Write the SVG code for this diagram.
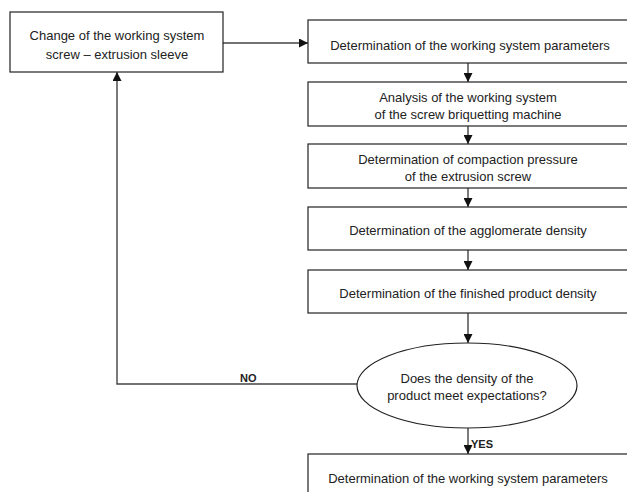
<svg xmlns="http://www.w3.org/2000/svg" width="627" height="492" viewBox="0 0 627 492">
<style>
.box{fill:#fff;stroke:#222;stroke-width:1.2}
.t{font-family:"Liberation Sans",Arial,sans-serif;font-size:13px;fill:#222;text-anchor:middle}
.b{font-family:"Liberation Sans",Arial,sans-serif;font-size:11px;font-weight:bold;fill:#222}
.c{fill:none;stroke:#444;stroke-width:1.4}
</style>
<defs>
<marker id="ah" viewBox="0 0 10 10" refX="10" refY="5" markerWidth="9" markerHeight="9" markerUnits="userSpaceOnUse" orient="auto">
<path d="M0,0 L10,5 L0,10 z" fill="#111"/>
</marker>
</defs>
<rect width="627" height="492" fill="#fff"/>
<g id="connectors">
<line class="c" x1="223" y1="43" x2="308" y2="43" marker-end="url(#ah)"/>
<line class="c" x1="468" y1="63" x2="468" y2="82" marker-end="url(#ah)"/>
<line class="c" x1="468" y1="126" x2="468" y2="144" marker-end="url(#ah)"/>
<line class="c" x1="468" y1="188" x2="468" y2="207" marker-end="url(#ah)"/>
<line class="c" x1="468" y1="250" x2="468" y2="270" marker-end="url(#ah)"/>
<line class="c" x1="468" y1="313" x2="468" y2="343" marker-end="url(#ah)"/>
<line class="c" x1="468" y1="428" x2="468" y2="454" marker-end="url(#ah)"/>
<polyline class="c" points="357,384 117,384 117,72" marker-end="url(#ah)"/>
<text class="b" x="240" y="382">NO</text>
<text class="b" x="471" y="448">YES</text>
</g>
<g id="n1">
<rect class="box" x="10" y="12" width="213" height="60"/>
<text class="t" x="117" y="40">Change of the working system</text>
<text class="t" x="117" y="59">screw – extrusion sleeve</text>
</g>
<g id="n2">
<rect class="box" x="308" y="20" width="322" height="43"/>
<text class="t" x="470" y="50">Determination of the working system parameters</text>
</g>
<g id="n3">
<rect class="box" x="308" y="82" width="322" height="44"/>
<text class="t" x="468" y="102">Analysis of the working system</text>
<text class="t" x="468" y="119">of the screw briquetting machine</text>
</g>
<g id="n4">
<rect class="box" x="308" y="144" width="322" height="44"/>
<text class="t" x="468" y="164">Determination of compaction pressure</text>
<text class="t" x="468" y="181">of the extrusion screw</text>
</g>
<g id="n5">
<rect class="box" x="308" y="207" width="322" height="43"/>
<text class="t" x="468" y="235">Determination of the agglomerate density</text>
</g>
<g id="n6">
<rect class="box" x="308" y="270" width="322" height="43"/>
<text class="t" x="468" y="298">Determination of the finished product density</text>
</g>
<g id="n7">
<ellipse class="box" cx="467" cy="385.5" rx="110" ry="42.5"/>
<text class="t" x="467" y="383">Does the density of the</text>
<text class="t" x="467" y="400">product meet expectations?</text>
</g>
<g id="n8">
<rect class="box" x="308" y="454" width="322" height="50"/>
<text class="t" x="468" y="483">Determination of the working system parameters</text>
</g>
</svg>
